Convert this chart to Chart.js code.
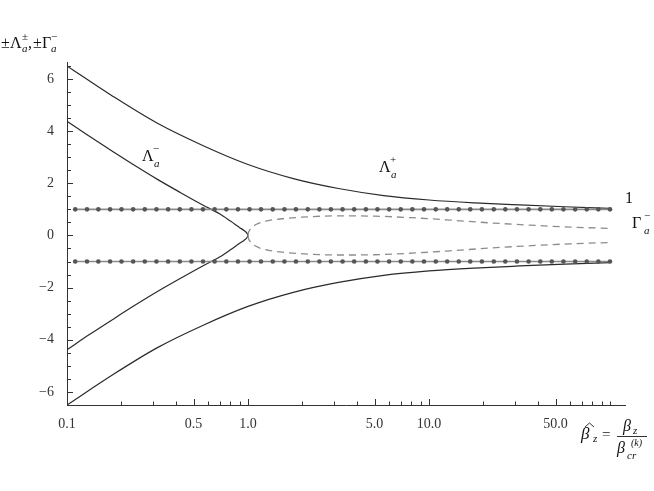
<!DOCTYPE html>
<html>
<head>
  <title>Lambda / Gamma curves</title>
  <script src="https://cdn.jsdelivr.net/npm/chart.js"></script>
  <style>
    body { margin: 0; background: #fff; }
  </style>
</head>
<body>
  <canvas id="lamChart" width="654" height="491"></canvas>

  <script>
    // values (x = beta_z / beta_cr, log axis)
    const betaPlus   = [0.1, 0.178, 0.316, 0.562, 1.0, 1.78, 3.16, 5.62, 10, 17.8, 31.6, 56.2, 100];
    const lambdaPlus = [6.5, 5.35, 4.3, 3.45, 2.72, 2.18, 1.8, 1.53, 1.36, 1.25, 1.17, 1.1, 1.04];

    const betaMinus   = [0.1, 0.133, 0.178, 0.237, 0.316, 0.422, 0.562, 0.7, 0.8, 0.9, 0.95, 0.99, 1.0];
    const lambdaMinus = [4.38, 3.8, 3.23, 2.68, 2.15, 1.65, 1.17, 0.82, 0.55, 0.3, 0.19, 0.07, 0.0];

    const betaGamma  = [1.0, 1.005, 1.02, 1.06, 1.14, 1.3, 1.6, 2.2, 3.2, 5, 8, 13, 22, 35, 60, 100];
    const gammaMinus = [0.0, 0.1, 0.2, 0.33, 0.46, 0.57, 0.65, 0.72, 0.75, 0.74, 0.68, 0.59, 0.48, 0.4, 0.32, 0.27];

    // mesh dots on the lines +1 and -1
    const betaDots = [0.111, 0.129, 0.149, 0.173, 0.200, 0.232, 0.269, 0.312, 0.362, 0.420, 0.487, 0.564,
      0.654, 0.759, 0.880, 1.02, 1.18, 1.37, 1.59, 1.84, 2.14, 2.48, 2.87, 3.33, 3.86, 4.48, 5.19, 6.02,
      6.98, 8.09, 9.38, 10.9, 12.6, 14.6, 16.9, 19.6, 22.8, 26.4, 30.6, 35.5, 41.2, 47.7, 55.3, 64.2,
      74.4, 86.2, 100];

    const xTicks = [0.1, 0.2, 0.3, 0.4, 0.5, 0.6, 0.7, 0.8, 0.9, 1, 2, 3, 4, 5, 6, 7, 8, 9, 10,
      20, 30, 40, 50, 60, 70, 80, 90, 100];
    const xMajor = [0.1, 0.5, 1, 5, 10, 50];
    const yTicks = [-6.5, -6, -5.5, -5, -4.5, -4, -3.5, -3, -2.5, -2, -1.5, -1, -0.5, 0,
      0.5, 1, 1.5, 2, 2.5, 3, 3.5, 4, 4.5, 5, 5.5, 6, 6.5];
    const yMajor = [-6, -4, -2, 0, 2, 4, 6];

    function pts(xs, ys, sign) {
      return xs.map((x, i) => ({ x: x, y: sign * ys[i] }));
    }

    const solid = { borderColor: '#2a2a2a', borderWidth: 1.2, pointRadius: 0, showLine: true,
                    cubicInterpolationMode: 'monotone', fill: false };
    const dashed = { borderColor: '#8c8c8c', borderWidth: 1.3, borderDash: [7, 5], pointRadius: 0,
                     showLine: true, cubicInterpolationMode: 'monotone', fill: false };
    const dotted = { borderColor: '#8a8a8a', borderWidth: 1.6, pointRadius: 2.3, pointBorderWidth: 0,
                     pointBackgroundColor: '#555', showLine: true, fill: false };

    const serif = '"Liberation Serif", "DejaVu Serif", serif';

    function txt(ctx, s, x, y, size, italic) {
      ctx.font = (italic ? 'italic ' : '') + size + 'px ' + serif;
      ctx.fillText(s, x, y);
    }

    const decorPlugin = {
      id: 'decor',
      afterDraw(chart) {
        const ctx = chart.ctx;
        const xs = chart.scales.x, ys = chart.scales.y;
        const area = chart.chartArea;
        ctx.save();
        // inward tick marks
        ctx.strokeStyle = '#333';
        ctx.lineWidth = 1;
        ctx.beginPath();
        xTicks.forEach(v => {
          const px = Math.round(xs.getPixelForValue(v)) + 0.5;
          const len = xMajor.includes(v) ? 6 : 3.5;
          ctx.moveTo(px, area.bottom);
          ctx.lineTo(px, area.bottom - len);
        });
        yTicks.forEach(v => {
          const py = Math.round(ys.getPixelForValue(v)) + 0.5;
          const len = yMajor.includes(v) ? 6 : 4;
          ctx.moveTo(area.left, py);
          ctx.lineTo(area.left + len, py);
        });
        ctx.stroke();

        // labels
        ctx.fillStyle = '#111';
        ctx.textAlign = 'left';
        ctx.textBaseline = 'alphabetic';

        // axis title top-left
        txt(ctx, '\u00b1', 1, 48, 16);
        txt(ctx, '\u039b', 10, 48, 16);
        txt(ctx, '\u00b1', 22, 40, 11);
        txt(ctx, 'a', 22, 52, 11, true);
        txt(ctx, ',', 28, 48, 16);
        txt(ctx, '\u00b1', 33, 48, 16);
        txt(ctx, '\u0393', 42, 48, 16);
        txt(ctx, '\u2212', 51, 40, 11);
        txt(ctx, 'a', 51, 52, 11, true);

        // curve labels
        txt(ctx, '\u039b', 142, 161, 16);
        txt(ctx, '\u2212', 153, 152, 11);
        txt(ctx, 'a', 154, 167, 11, true);

        txt(ctx, '\u039b', 379, 172, 16);
        txt(ctx, '+', 390, 163, 11);
        txt(ctx, 'a', 391, 178, 11, true);

        txt(ctx, '1', 625, 203, 16);

        txt(ctx, '\u0393', 632, 228, 16);
        txt(ctx, '\u2212', 644, 219, 11);
        txt(ctx, 'a', 644, 234, 11, true);

        // x axis title
        txt(ctx, '\u03b2', 581, 439, 17, true);
        ctx.beginPath();
        ctx.moveTo(585, 427); ctx.lineTo(589.5, 423); ctx.lineTo(594, 427);
        ctx.stroke();
        txt(ctx, 'z', 593, 442, 11, true);
        txt(ctx, '=', 602, 439, 15);
        txt(ctx, '\u03b2', 623, 431, 16, true);
        txt(ctx, 'z', 633, 434, 11, true);
        ctx.beginPath();
        ctx.moveTo(617, 436.5); ctx.lineTo(647, 436.5);
        ctx.stroke();
        txt(ctx, '\u03b2', 617, 453, 16, true);
        txt(ctx, '(k)', 631, 446, 10, true);
        txt(ctx, 'cr', 627, 459, 11, true);
        ctx.restore();
      }
    };

    const ctx = document.getElementById('lamChart').getContext('2d');
    new Chart(ctx, {
      type: 'scatter',
      data: {
        datasets: [
          Object.assign({ data: pts(betaDots, betaDots.map(() => 1), 1) }, dotted),
          Object.assign({ data: pts(betaDots, betaDots.map(() => 1), -1) }, dotted),
          Object.assign({ data: pts(betaGamma, gammaMinus, 1) }, dashed),
          Object.assign({ data: pts(betaGamma, gammaMinus, -1) }, dashed),
          Object.assign({ data: pts(betaPlus, lambdaPlus, 1) }, solid),
          Object.assign({ data: pts(betaPlus, lambdaPlus, -1) }, solid),
          Object.assign({ data: pts(betaMinus, lambdaMinus, 1) }, solid),
          Object.assign({ data: pts(betaMinus, lambdaMinus, -1) }, solid)
        ]
      },
      options: {
        responsive: false,
        animation: false,
        layout: { padding: { top: 62, right: 29, left: 0, bottom: 0 } },
        plugins: { legend: { display: false }, tooltip: { enabled: false } },
        scales: {
          x: {
            type: 'logarithmic',
            min: 0.1,
            max: 121,
            afterBuildTicks: s => { s.ticks = xTicks.map(v => ({ value: v })); },
            afterFit: s => { s.height = 86; },
            grid: { display: false },
            border: { color: '#333', width: 1 },
            ticks: {
              autoSkip: false, maxRotation: 0, minRotation: 0, padding: 3, color: '#333',
              font: { family: serif, size: 14 },
              callback: v => xMajor.includes(v) ? v.toFixed(1) : ''
            }
          },
          y: {
            min: -6.5,
            max: 6.65,
            afterBuildTicks: s => { s.ticks = yTicks.map(v => ({ value: v })); },
            afterFit: s => { s.width = 67; },
            grid: { display: false },
            border: { color: '#333', width: 1 },
            ticks: {
              autoSkip: false, padding: 5, color: '#333',
              font: { family: serif, size: 14 },
              callback: v => yMajor.includes(v) ? String(v).replace('-', '\u2212') : ''
            }
          }
        }
      },
      plugins: [decorPlugin]
    });
  </script>
</body>
</html>
